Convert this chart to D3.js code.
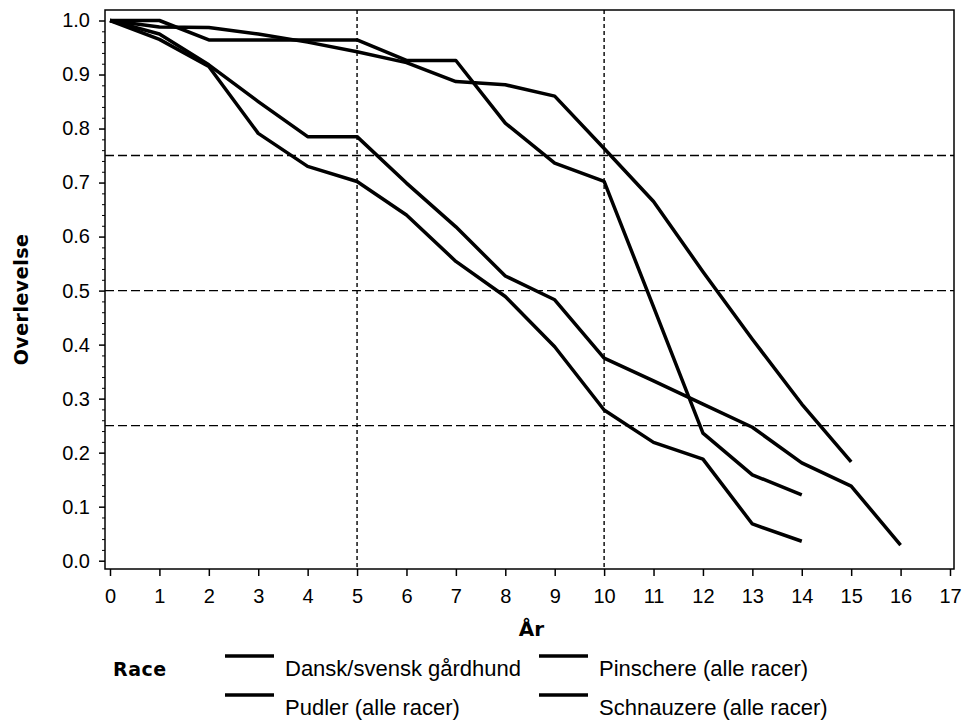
<!DOCTYPE html>
<html>
<head>
<meta charset="utf-8">
<script src="https://cdn.jsdelivr.net/npm/d3@7"></script>
<style>
  body { margin: 0; background: #fff; }
</style>
</head>
<body>
<div id="chart"></div>
<script>
// Data
const aar = [0, 1, 2, 3, 4, 5, 6, 7, 8, 9, 10, 11, 12, 13, 14, 15, 16];
const racer = ["Dansk/svensk gårdhund", "Pudler (alle racer)", "Pinschere (alle racer)", "Schnauzere (alle racer)"];
const dansk = [1.0, 0.988, 0.987, 0.975, 0.96, 0.942, 0.922, 0.887, 0.881, 0.86, 0.763, 0.665, 0.535, 0.41, 0.29, 0.183];
const pudler = [1.0, 0.975, 0.918, 0.85, 0.785, 0.785, 0.699, 0.618, 0.527, 0.483, 0.375, 0.333, 0.29, 0.247, 0.181, 0.138, 0.029];
const pinschere = [1.0, 1.0, 0.964, 0.964, 0.964, 0.964, 0.926, 0.926, 0.81, 0.736, 0.702, 0.47, 0.236, 0.159, 0.122];
const schnauzere = [1.0, 0.965, 0.915, 0.791, 0.73, 0.702, 0.64, 0.554, 0.489, 0.396, 0.279, 0.219, 0.188, 0.068, 0.036];
const yTicks = [0, 0.1, 0.2, 0.3, 0.4, 0.5, 0.6, 0.7, 0.8, 0.9, 1.0];
const xTicks = [0, 1, 2, 3, 4, 5, 6, 7, 8, 9, 10, 11, 12, 13, 14, 15, 16, 17];
const refLinjerY = [0.25, 0.5, 0.75];
const refLinjerX = [5, 10];

const width = 964, height = 727;
const frame = { left: 105, right: 954, top: 10, bottom: 569 };

const svg = d3.select("#chart").append("svg")
    .attr("width", width)
    .attr("height", height);

const x = d3.scaleLinear().domain([0, 17]).range([110, 950]);
const y = d3.scaleLinear().domain([0, 1]).range([560.7, 20.5]);

const tickFont = "'Liberation Sans', Arial, sans-serif";
const titleFont = "'DejaVu Sans', Verdana, sans-serif";

// reference lines
svg.append("g").selectAll("line")
    .data(refLinjerY)
    .enter().append("line")
    .attr("x1", frame.left).attr("x2", frame.right)
    .attr("y1", d => y(d)).attr("y2", d => y(d))
    .attr("stroke", "#000").attr("stroke-width", 1.4)
    .attr("stroke-dasharray", "9,4");

svg.append("g").selectAll("line")
    .data(refLinjerX)
    .enter().append("line")
    .attr("x1", d => x(d)).attr("x2", d => x(d))
    .attr("y1", frame.top).attr("y2", frame.bottom)
    .attr("stroke", "#000").attr("stroke-width", 1.4)
    .attr("stroke-dasharray", "4,3");

// frame
svg.append("rect")
    .attr("x", frame.left).attr("y", frame.top)
    .attr("width", frame.right - frame.left)
    .attr("height", frame.bottom - frame.top)
    .attr("fill", "none").attr("stroke", "#000").attr("stroke-width", 1.5);

// y axis: major + minor ticks
const yMinor = d3.range(0, 50).map(i => i * 0.02).filter((d, i) => i % 5 !== 0);
svg.append("g")
    .attr("transform", `translate(${frame.left},0)`)
    .call(d3.axisLeft(y).tickValues(yMinor).tickSize(3).tickFormat(""))
    .call(g => g.select(".domain").remove());

const yAxis = svg.append("g")
    .attr("transform", `translate(${frame.left},0)`)
    .call(d3.axisLeft(y).tickValues(yTicks).tickSize(6).tickPadding(9).tickFormat(d3.format(".1f")));
yAxis.select(".domain").remove();
yAxis.selectAll("text").attr("font-family", tickFont).attr("font-size", 20).attr("fill", "#000");
yAxis.selectAll("line").attr("stroke-width", 1.5);

const xAxis = svg.append("g")
    .attr("transform", `translate(0,${frame.bottom})`)
    .call(d3.axisBottom(x).tickValues(xTicks).tickSize(7).tickPadding(13).tickFormat(d3.format("d")));
xAxis.select(".domain").remove();
xAxis.selectAll("text").attr("font-family", tickFont).attr("font-size", 20).attr("fill", "#000");
xAxis.selectAll("line").attr("stroke-width", 1.5);

// axis titles
svg.append("text")
    .attr("x", (frame.left + frame.right) / 2 + 2).attr("y", 636)
    .attr("text-anchor", "middle")
    .attr("font-family", titleFont).attr("font-weight", "bold").attr("font-size", 20)
    .text("År");

svg.append("text")
    .attr("transform", `translate(28,${(frame.top + frame.bottom) / 2 + 10}) rotate(-90)`)
    .attr("text-anchor", "middle")
    .attr("font-family", titleFont).attr("font-weight", "bold").attr("font-size", 19)
    .attr("letter-spacing", 0.5)
    .text("Overlevelse");

// survival curves
const serier = [dansk, pudler, pinschere, schnauzere];
const line = d3.line()
    .x((d, i) => x(aar[i]))
    .y(d => y(d));

svg.append("g").selectAll("path")
    .data(serier)
    .enter().append("path")
    .attr("d", line)
    .attr("fill", "none")
    .attr("stroke", "#000")
    .attr("stroke-width", 3.5)
    .attr("stroke-linejoin", "round");

// legend
const legend = svg.append("g");
legend.append("text")
    .attr("x", 113).attr("y", 676)
    .attr("font-family", titleFont).attr("font-weight", "bold").attr("font-size", 19)
    .attr("letter-spacing", 0.5)
    .text("Race");

const legPos = [
    { lx: 225, ty: 676 }, { lx: 225, ty: 715 },
    { lx: 539, ty: 676 }, { lx: 539, ty: 715 }
];
racer.forEach((navn, i) => {
    const p = legPos[i];
    legend.append("line")
        .attr("x1", p.lx).attr("x2", p.lx + 49)
        .attr("y1", p.ty - 20).attr("y2", p.ty - 20)
        .attr("stroke", "#000").attr("stroke-width", 3.5);
    legend.append("text")
        .attr("x", p.lx + 60).attr("y", p.ty)
        .attr("font-family", tickFont).attr("font-size", 22)
        .text(navn);
});
</script>
</body>
</html>
